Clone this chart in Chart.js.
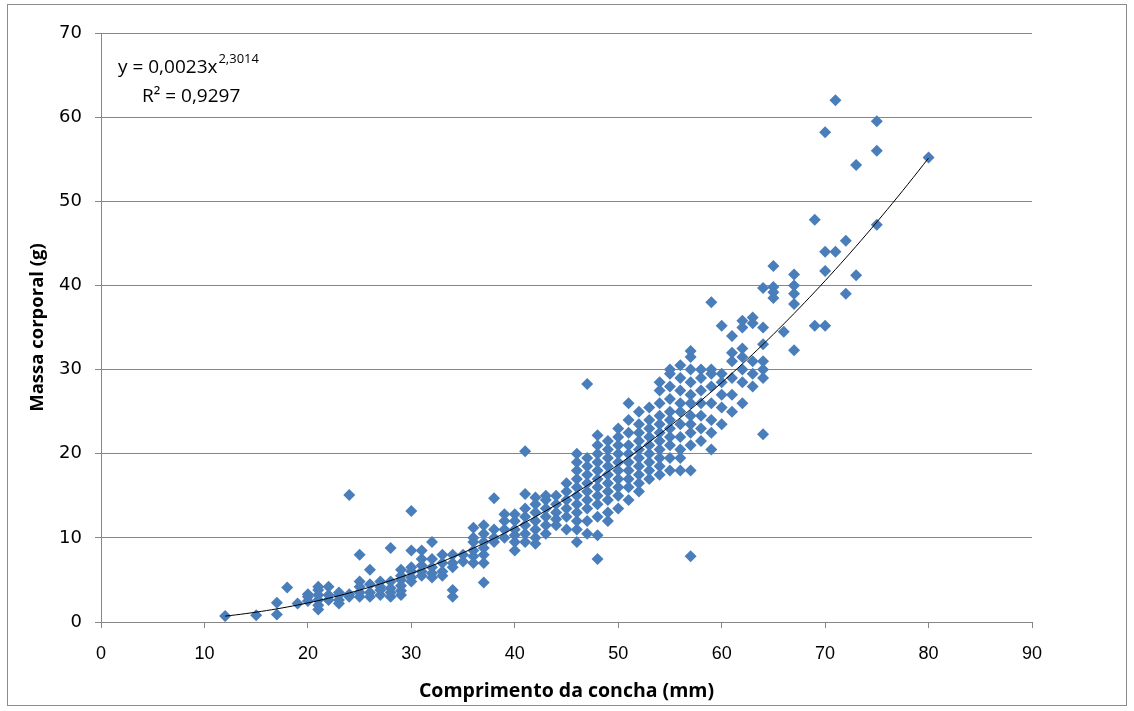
<!DOCTYPE html>
<html><head><meta charset="utf-8">
<script src="https://cdn.jsdelivr.net/npm/chart.js@4/dist/chart.umd.min.js"></script>
<style>html,body{margin:0;padding:0;background:#fff}#wrap{width:1134px;height:711px}</style>
</head><body><div id="wrap"><canvas id="c"></canvas></div>
<script>
// Shell length (mm) columns and body mass (g) observed at each length
const shellLength = [12,15,17,18,19,20,21,22,23,24,25,26,27,28,29,30,31,32,33,34,35,36,37,38,39,40,41,42,43,44,45,46,47,48,49,50,51,52,53,54,55,56,57,58,59,60,61,62,63,64,65,66,67,69,70,71,72,73,75,80];
const massByLength = [
  [0.7],
  [0.8],
  [0.9,2.3],
  [4.1],
  [2.2],
  [2.5,3.0,3.3],
  [1.5,2.0,2.6,3.2,3.8,4.2],
  [2.6,3.2,4.2],
  [2.2,2.6,3.2,3.5],
  [3.0,3.3,15.1],
  [3.0,3.5,4.2,4.8,8.0],
  [3.0,3.5,4.5,6.2],
  [3.2,3.8,4.2,4.8],
  [3.0,3.5,4.0,4.8,8.8],
  [3.2,3.7,4.3,5.0,5.5,6.2],
  [4.8,5.3,6.0,6.5,8.5,13.2],
  [5.5,6.0,6.7,7.5,8.5],
  [5.3,5.8,6.5,7.5,9.5],
  [5.5,6.0,7.0,8.0],
  [3.0,3.8,6.5,7.0,8.0],
  [7.2,8.0],
  [7.0,7.8,8.5,9.5,10.0,11.2],
  [4.7,7.0,8.0,8.8,9.5,10.5,11.5],
  [9.5,10.0,11.0,14.7],
  [10.0,11.0,12.0,12.8],
  [8.5,9.5,10.3,11.0,12.0,12.8],
  [9.5,10.5,11.5,12.5,13.5,15.2,20.3],
  [9.3,10.0,11.0,12.0,13.0,14.0,14.8],
  [10.5,11.5,12.5,13.5,14.5,15.0],
  [11.5,12.2,13.0,14.0,15.0],
  [11.0,12.5,13.5,14.5,15.5,16.5],
  [9.5,11.0,12.0,13.0,14.0,15.0,16.0,17.0,18.0,19.0,20.0],
  [10.5,12.0,13.5,14.5,15.5,16.5,17.5,18.5,19.5,28.3],
  [7.5,10.3,12.5,14.0,15.0,16.0,17.0,18.0,19.0,20.0,21.0,22.2],
  [12.0,13.0,14.5,15.5,16.5,17.5,18.5,19.5,20.5,21.5],
  [13.5,15.0,16.0,17.0,18.0,19.0,20.0,21.0,22.0,23.0],
  [14.5,16.0,17.0,18.0,19.0,20.0,21.0,22.5,24.0,26.0],
  [15.5,16.5,17.5,18.5,19.5,20.5,21.5,22.5,23.5,25.0],
  [17.0,18.0,19.0,20.0,21.0,22.0,23.0,24.0,25.5],
  [17.5,18.5,19.5,20.5,21.5,22.5,23.5,24.5,26.0,27.5,28.5],
  [18.0,19.5,21.0,22.0,23.0,24.0,25.0,26.5,28.0,29.5,30.0],
  [18.0,19.5,20.5,22.0,23.5,25.0,26.0,27.5,29.0,30.5],
  [7.8,18.0,21.0,22.5,23.5,24.5,26.0,27.0,28.5,30.0,31.5,32.2],
  [21.5,23.0,24.5,26.0,27.5,29.0,30.0],
  [20.5,22.5,24.0,26.0,28.0,29.5,30.0,38.0],
  [23.5,25.5,27.0,28.5,29.5,35.2],
  [25.0,27.0,29.0,31.0,32.0,34.0],
  [26.0,28.5,30.0,31.5,32.5,35.0,35.8],
  [28.0,29.5,31.0,35.5,36.2],
  [22.3,29.0,30.0,31.0,33.0,35.0,39.7],
  [38.5,39.2,39.8,42.3],
  [34.5],
  [32.3,37.8,39.0,40.0,41.3],
  [35.2,47.8],
  [35.2,41.7,44.0,58.2],
  [44.0,62.0],
  [39.0,45.3],
  [41.2,54.3],
  [47.2,56.0,59.5],
  [55.2]
];
// Fitted power trend shown on the chart: y = 0,0023 x^2,3014 (R² = 0,9297)
const trendCoef = 0.0023;
const trendExp = 2.3014;
const trendRange = [12, 80];
const xTicks = [0,10,20,30,40,50,60,70,80,90];
const yTicks = [0,10,20,30,40,50,60,70];

const points = [];
shellLength.forEach((x, i) => massByLength[i].forEach(y => points.push({x, y})));
const trend = [];
for (let x = trendRange[0]; x <= trendRange[1] + 1e-9; x += 0.5) trend.push({x, y: trendCoef * Math.pow(x, trendExp)});

const EQ_FONT = '"Open Sans", Lato, sans-serif';
const frame = {
  id: 'frame',
  afterDraw(chart) {
    const ctx = chart.ctx;
    ctx.save();
    ctx.strokeStyle = '#8c8c8c';
    ctx.lineWidth = 1;
    ctx.strokeRect(7.5, 4.5, 1119, 701);
    ctx.fillStyle = '#000';
    ctx.textBaseline = 'alphabetic';
    ctx.font = '19px ' + EQ_FONT;
    const l1 = 'y = 0,0023x';
    ctx.fillText(l1, 118, 73);
    const w1 = ctx.measureText(l1).width;
    ctx.font = '13px ' + EQ_FONT;
    ctx.fillText('2,3014', 118 + w1 + 1, 63);
    ctx.font = '19px ' + EQ_FONT;
    ctx.fillText('R² = 0,9297', 142, 102);
    ctx.restore();
  }
};

new Chart(document.getElementById('c'), {
  type: 'scatter',
  data: {
    datasets: [
      {
        label: 'Massa corporal',
        data: points,
        pointStyle: 'rectRot',
        pointRadius: 6,
        pointHoverRadius: 6,
        backgroundColor: '#4A7EBB',
        borderColor: '#4A7EBB',
        borderWidth: 0,
        order: 2
      },
      {
        label: 'Tendência',
        type: 'line',
        data: trend,
        borderColor: '#000',
        borderWidth: 1,
        pointRadius: 0,
        fill: false,
        tension: 0,
        order: 1
      }
    ]
  },
  options: {
    responsive: true,
    maintainAspectRatio: false,
    animation: false,
    devicePixelRatio: 1,
    layout: { padding: { left: 10, right: 102, top: 33, bottom: 8 } },
    plugins: { legend: { display: false }, tooltip: { enabled: false } },
    scales: {
      x: {
        type: 'linear',
        min: 0, max: 90,
        afterBuildTicks: s => { s.ticks = xTicks.map(v => ({value: v})); },
        afterFit: s => { s.height = 711 - 622 - 8; },
        grid: { display: true, drawOnChartArea: false, drawTicks: true, tickLength: 6, color: '#868686' },
        border: { color: '#868686', width: 1 },
        ticks: { color: '#000', padding: 15, font: { family: '"Liberation Sans Narrow", "Liberation Sans", sans-serif', size: 18 } },
        title: { display: true, text: 'Comprimento da concha (mm)', color: '#000', padding: { top: 3, bottom: 0 }, font: { family: '"Open Sans", Lato, sans-serif', size: 19.5, weight: 'bold' } }
      },
      y: {
        type: 'linear',
        min: 0, max: 70,
        afterBuildTicks: s => { s.ticks = yTicks.map(v => ({value: v})); },
        afterFit: s => { s.width = 101 - 10; },
        grid: { color: '#868686', tickLength: 6, lineWidth: 1 },
        border: { color: '#868686', width: 1 },
        ticks: { color: '#000', padding: 13, font: { family: '"DejaVu Sans", sans-serif', size: 18 } },
        title: { display: true, text: 'Massa corporal (g)', color: '#000', padding: { top: 17, bottom: 0 }, font: { family: '"Open Sans", Lato, sans-serif', size: 18.5, weight: 'bold' } }
      }
    }
  },
  plugins: [frame]
});
</script></body></html>
